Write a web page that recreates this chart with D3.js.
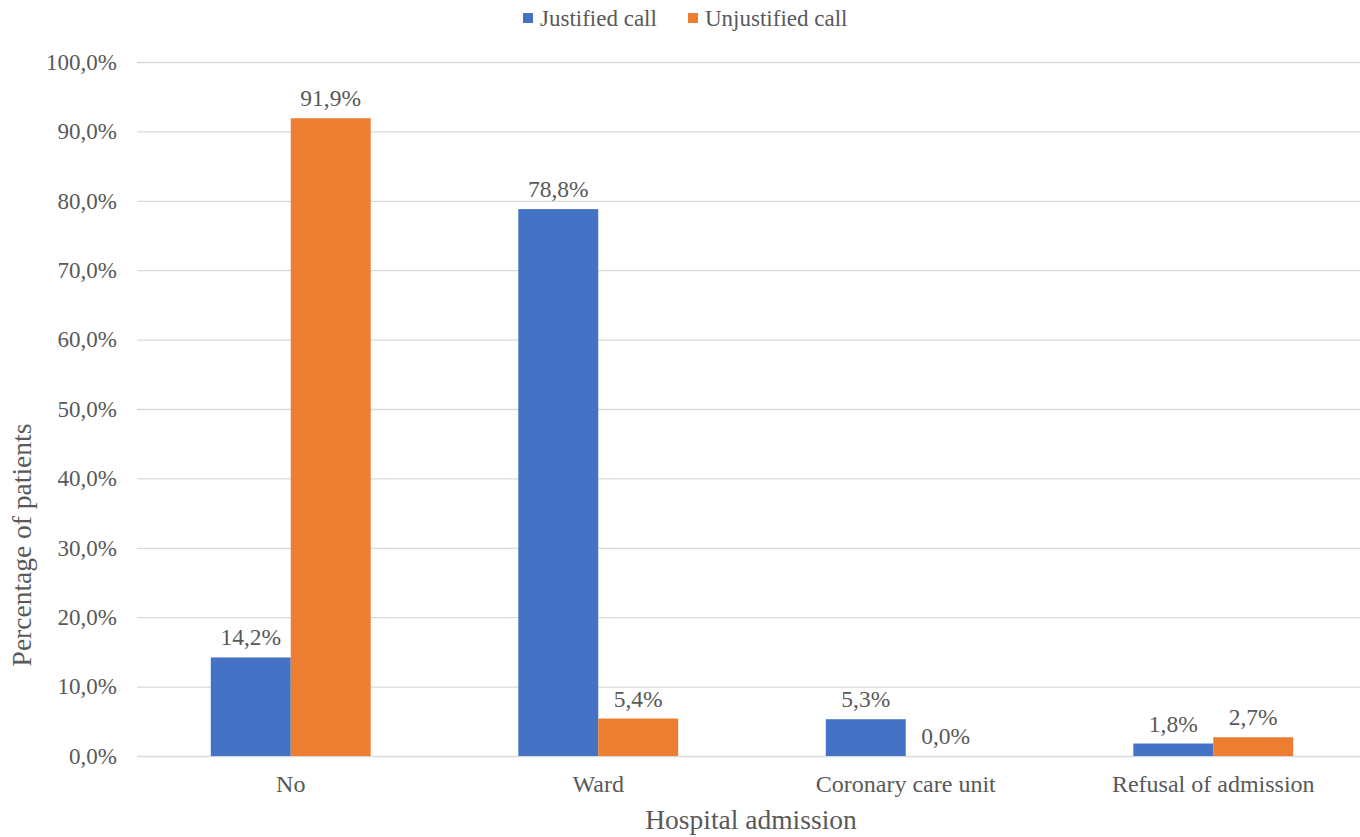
<!DOCTYPE html>
<html>
<head>
<meta charset="utf-8">
<script src="https://cdn.jsdelivr.net/npm/d3@7/dist/d3.min.js"></script>
<style>
    body { margin: 0; background: #fff; }
    svg { display: block; }
    text { font-family: "Liberation Serif", "Times New Roman", serif; fill: #595959; }
</style>
</head>
<body>
<script>
    var categories = ["No", "Ward", "Coronary care unit", "Refusal of admission"];
    var seriesNames = ["Justified call", "Unjustified call"];
    var justified = [14.2, 78.8, 5.3, 1.8];
    var unjustified = [91.9, 5.4, 0.0, 2.7];
    var yTicks = [0, 10, 20, 30, 40, 50, 60, 70, 80, 90, 100];

    var colors = ["#4472c4", "#ed7d31"];
    var W = 1360, H = 837;
    var padL = 137, padR = 1367, padT = 62, padB = 756;

    var svg = d3.select("body").append("svg")
        .attr("width", W)
        .attr("height", H);

    var fmt = function(v) { return v.toFixed(1).replace(".", ",") + "%"; };

    var x0 = d3.scaleBand()
        .domain(categories)
        .range([padL, padR])
        .paddingInner(0.48)
        .paddingOuter(0.24);

    var x1 = d3.scaleBand()
        .domain(seriesNames)
        .range([0, x0.bandwidth()]);

    var y = d3.scaleLinear()
        .domain([0, 100])
        .range([padB, padT]);

    // gridlines + y labels
    var yAxis = svg.append("g")
        .attr("transform", "translate(" + padL + ",0)")
        .call(d3.axisLeft(y).tickValues(yTicks).tickSize(-(padR - padL)).tickPadding(20).tickFormat(fmt));
    yAxis.select(".domain").remove();
    yAxis.selectAll("line").attr("stroke", "#d9d9d9").attr("stroke-width", 1.3);
    yAxis.selectAll("text")
        .attr("fill", "#595959")
        .style("font-family", "'Liberation Serif', 'Times New Roman', serif")
        .style("font-size", "23px");

    // x labels
    var xAxis = svg.append("g")
        .attr("transform", "translate(0," + padB + ")")
        .call(d3.axisBottom(x0).tickSize(0).tickPadding(19));
    xAxis.select(".domain").remove();
    xAxis.selectAll("text")
        .attr("fill", "#595959")
        .style("font-family", "'Liberation Serif', 'Times New Roman', serif")
        .style("font-size", "24px");

    var rows = categories.map(function(c, i) {
        return { cat: c, values: [justified[i], unjustified[i]] };
    });

    var groups = svg.selectAll(".cat")
        .data(rows)
        .enter()
        .append("g")
        .attr("class", "cat")
        .attr("transform", function(d) { return "translate(" + x0(d.cat) + ",0)"; });

    groups.selectAll("rect")
        .data(function(d) { return d.values.map(function(v, j) { return { s: seriesNames[j], v: v, j: j }; }); })
        .enter()
        .append("rect")
        .attr("x", function(d) { return x1(d.s); })
        .attr("width", x1.bandwidth())
        .attr("y", function(d) { return y(d.v); })
        .attr("height", function(d) { return y(0) - y(d.v); })
        .attr("fill", function(d) { return colors[d.j]; });

    groups.selectAll(".lbl")
        .data(function(d) { return d.values.map(function(v, j) { return { s: seriesNames[j], v: v, j: j }; }); })
        .enter()
        .append("text")
        .attr("class", "lbl")
        .attr("x", function(d) { return x1(d.s) + x1.bandwidth() / 2; })
        .attr("y", function(d) { return y(d.v) - 12; })
        .attr("text-anchor", "middle")
        .style("font-size", "23.5px")
        .text(function(d) { return fmt(d.v); });

    // axis titles
    svg.append("text")
        .attr("x", 751)
        .attr("y", 829)
        .attr("text-anchor", "middle")
        .style("font-size", "27.5px")
        .text("Hospital admission");

    svg.append("text")
        .attr("transform", "translate(31,545) rotate(-90)")
        .attr("text-anchor", "middle")
        .style("font-size", "27.5px")
        .text("Percentage of patients");

    // legend
    var legX = [523, 688];
    var legend = svg.append("g");
    seriesNames.forEach(function(name, i) {
        legend.append("rect")
            .attr("x", legX[i])
            .attr("y", 13)
            .attr("width", 10)
            .attr("height", 10)
            .attr("fill", colors[i]);
        legend.append("text")
            .attr("x", legX[i] + 17)
            .attr("y", 26)
            .style("font-size", "23px")
            .text(name);
    });
</script>
</body>
</html>
